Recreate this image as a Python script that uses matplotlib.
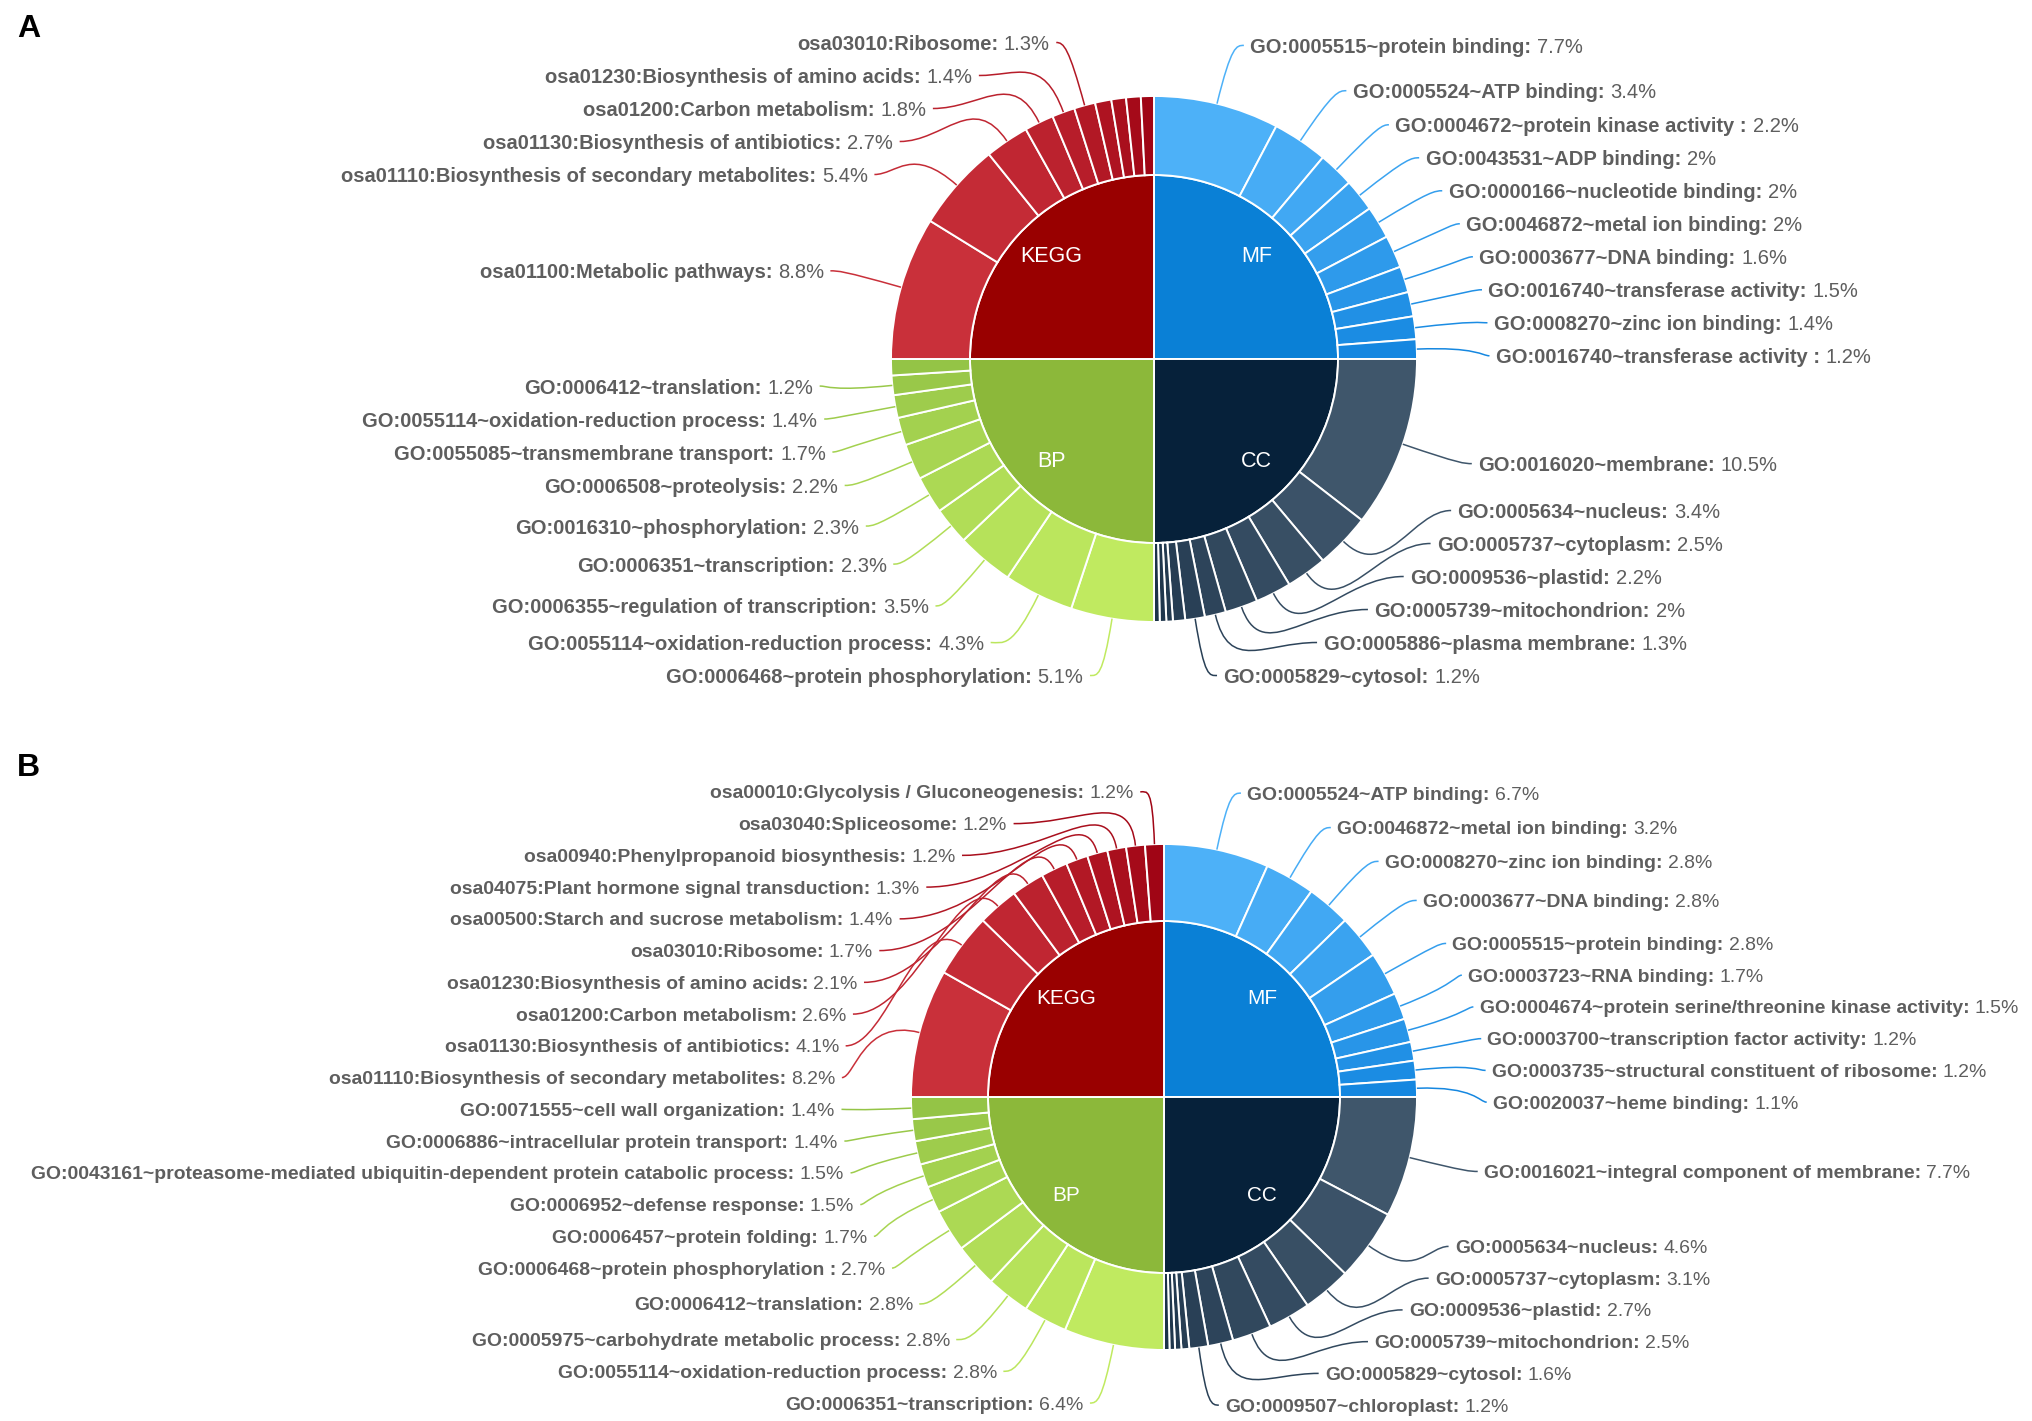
import numpy as np
import matplotlib
matplotlib.use("Agg")
import matplotlib.pyplot as plt
from matplotlib.patches import Wedge, PathPatch
from matplotlib.path import Path

# ---------------- data (percent of annotated genes) ----------------
categories = ["MF", "CC", "BP", "KEGG"]

A_MF_terms = ["GO:0005515~protein binding", "GO:0005524~ATP binding",
              "GO:0004672~protein kinase activity ", "GO:0043531~ADP binding",
              "GO:0000166~nucleotide binding", "GO:0046872~metal ion binding",
              "GO:0003677~DNA binding", "GO:0016740~transferase activity",
              "GO:0008270~zinc ion binding", "GO:0016740~transferase activity "]
A_MF_values = [7.7, 3.4, 2.2, 2, 2, 2, 1.6, 1.5, 1.4, 1.2]

A_CC_terms = ["GO:0016020~membrane", "GO:0005634~nucleus", "GO:0005737~cytoplasm",
              "GO:0009536~plastid", "GO:0005739~mitochondrion",
              "GO:0005886~plasma membrane", "GO:0005829~cytosol", "", "", "", ""]
A_CC_values = [10.5, 3.4, 2.5, 2.2, 2, 1.3, 1.2, 0.75, 0.4, 0.4, 0.35]

A_BP_terms = ["GO:0006468~protein phosphorylation", "GO:0055114~oxidation-reduction process",
              "GO:0006355~regulation of transcription", "GO:0006351~transcription",
              "GO:0016310~phosphorylation", "GO:0006508~proteolysis",
              "GO:0055085~transmembrane transport", "GO:0055114~oxidation-reduction process",
              "GO:0006412~translation", ""]
A_BP_values = [5.1, 4.3, 3.5, 2.3, 2.3, 2.2, 1.7, 1.4, 1.2, 1.0]

A_KEGG_terms = ["osa01100:Metabolic pathways", "osa01110:Biosynthesis of secondary metabolites",
                "osa01130:Biosynthesis of antibiotics", "osa01200:Carbon metabolism",
                "osa01230:Biosynthesis of amino acids", "osa03010:Ribosome", "", "", "", ""]
A_KEGG_values = [8.8, 5.4, 2.7, 1.8, 1.4, 1.3, 1.0, 0.9, 0.9, 0.8]

B_MF_terms = ["GO:0005524~ATP binding", "GO:0046872~metal ion binding",
              "GO:0008270~zinc ion binding", "GO:0003677~DNA binding",
              "GO:0005515~protein binding", "GO:0003723~RNA binding",
              "GO:0004674~protein serine/threonine kinase activity",
              "GO:0003700~transcription factor activity",
              "GO:0003735~structural constituent of ribosome", "GO:0020037~heme binding"]
B_MF_values = [6.7, 3.2, 2.8, 2.8, 2.8, 1.7, 1.5, 1.2, 1.2, 1.1]

B_CC_terms = ["GO:0016021~integral component of membrane", "GO:0005634~nucleus",
              "GO:0005737~cytoplasm", "GO:0009536~plastid", "GO:0005739~mitochondrion",
              "GO:0005829~cytosol", "GO:0009507~chloroplast", "", "", "", ""]
B_CC_values = [7.7, 4.6, 3.1, 2.7, 2.5, 1.6, 1.2, 0.5, 0.4, 0.35, 0.35]

B_BP_terms = ["GO:0006351~transcription", "GO:0055114~oxidation-reduction process",
              "GO:0005975~carbohydrate metabolic process", "GO:0006412~translation",
              "GO:0006468~protein phosphorylation ", "GO:0006457~protein folding",
              "GO:0006952~defense response",
              "GO:0043161~proteasome-mediated ubiquitin-dependent protein catabolic process",
              "GO:0006886~intracellular protein transport", "GO:0071555~cell wall organization"]
B_BP_values = [6.4, 2.8, 2.8, 2.8, 2.7, 1.7, 1.5, 1.5, 1.4, 1.4]

B_KEGG_terms = ["osa01110:Biosynthesis of secondary metabolites",
                "osa01130:Biosynthesis of antibiotics", "osa01200:Carbon metabolism",
                "osa01230:Biosynthesis of amino acids", "osa03010:Ribosome",
                "osa00500:Starch and sucrose metabolism",
                "osa04075:Plant hormone signal transduction",
                "osa00940:Phenylpropanoid biosynthesis", "osa03040:Spliceosome",
                "osa00010:Glycolysis / Gluconeogenesis"]
B_KEGG_values = [8.2, 4.1, 2.6, 2.1, 1.7, 1.4, 1.3, 1.2, 1.2, 1.2]

# ---------------- style ----------------
STYLE = {  # inner colour, outer light (largest), outer dark (smallest)
    "MF": ("#0a80d6", "#4db1f8", "#1587e0"),
    "CC": ("#06213a", "#3f566b", "#1b3248"),
    "BP": ("#8cb83a", "#c0ea60", "#94c446"),
    "KEGG": ("#990000", "#c9303a", "#a00515"),
}
TEXT_COLOR = "#5e5e5e"
FONT = "Liberation Sans"

W, H = 2033, 1421
fig = plt.figure(figsize=(W / 100, H / 100), dpi=100)
ax = fig.add_axes([0, 0, 1, 1])
ax.set_xlim(0, W)
ax.set_ylim(H, 0)
ax.set_aspect("equal")
ax.axis("off")
renderer = fig.canvas.get_renderer()


def hex2rgb(h):
    h = h.lstrip("#")
    return np.array([int(h[i:i + 2], 16) for i in (0, 2, 4)]) / 255.0


def mix(a, b, t):
    return tuple(hex2rgb(a) * (1 - t) + hex2rgb(b) * t)


def iso_layout(yn, h, lo, hi):
    n = len(yn)
    idx = np.arange(n)
    z = np.asarray(yn) - h * idx
    blocks = []
    for v in z:
        blocks.append([v, 1])
        while len(blocks) > 1 and blocks[-2][0] / blocks[-2][1] > blocks[-1][0] / blocks[-1][1]:
            s, c = blocks.pop()
            blocks[-1][0] += s
            blocks[-1][1] += c
    zf = np.concatenate([[b[0] / b[1]] * b[1] for b in blocks])
    zlo = lo + h / 2
    zhi = hi - h / 2 - h * (n - 1)
    zf = np.clip(zf, zlo, max(zlo, zhi))
    return zf + h * idx


def draw_panel(cx, cy, r0, r1, s, groups, lo, hi):
    L = 60 * s       # radial part of the leader line
    L2 = 12.5 * s    # horizontal part
    dist = 6.5 * s   # gap line -> text
    hgt = 33 * s     # label slot height
    fs = 14.5 * s    # label font size (pt)
    lw_edge = 1.4
    start = 90.0
    quad = 360.0 / len(groups)
    labels = []
    for cat, terms, vals in groups:
        cin, clight, cdark = STYLE[cat]
        a1, a2 = start, start - quad
        ax.add_patch(Wedge((cx, cy), r0, -a1, -a2, facecolor=cin,
                           edgecolor="white", linewidth=lw_edge))
        mid = np.radians((a1 + a2) / 2)
        ax.text(cx + 0.79 * r0 * np.cos(mid), cy - 0.79 * r0 * np.sin(mid), cat,
                color="white", fontsize=15.5 * s, family=FONT,
                ha="center", va="center")
        total = float(sum(vals))
        a = a1
        n = len(vals)
        for i, (t, v) in enumerate(zip(terms, vals)):
            span = quad * v / total
            b = a - span
            col = mix(clight, cdark, i / (n - 1))
            ax.add_patch(Wedge((cx, cy), r1, -a, -b, width=r1 - r0, facecolor=col,
                               edgecolor="white", linewidth=lw_edge))
            if t:
                labels.append(dict(theta=np.radians((a + b) / 2), name=t, value=v, color=col))
            a = b
        start = a2

    R = r1 + L
    for side in (1, -1):
        items = [d for d in labels if (np.cos(d["theta"]) >= 0) == (side == 1)]
        for d in items:
            d["yn"] = cy - R * np.sin(d["theta"])
            d["dxn"] = abs(R * np.cos(d["theta"]))
        items.sort(key=lambda d: d["yn"])
        ys = iso_layout([d["yn"] for d in items], hgt, lo, hi)
        for d, y in zip(items, ys):
            d["y"] = y
        # ellipse alignment per semi-circle
        for top in (True, False):
            semi = [d for d in items if (d["y"] < cy) == top]
            if not semi:
                continue
            ext = max(semi, key=lambda d: abs(d["y"] - cy))
            dy = abs(ext["y"] - cy)
            dx = ext["dxn"]
            rB = np.sqrt(dy * dy / (1 - dx * dx / R / R)) if dx < R else R
            rB = max(rB, dy)
            for d in semi:
                ddy = abs(d["y"] - cy)
                d["dx"] = R * np.sqrt(max(0.0, 1 - ddy * ddy / rB / rB))
        for d in items:
            th = d["theta"]
            p0 = (cx + r1 * np.cos(th), cy - r1 * np.sin(th))
            p1 = (cx + R * np.cos(th), cy - R * np.sin(th))
            xend = cx + side * (d["dx"] + L2)
            p2 = (xend, d["y"])
            hx = max(0.6 * abs(p2[0] - p1[0]), 6 * s)
            c2 = (xend - side * hx, d["y"])
            path = Path([p0, p1, c2, p2], [Path.MOVETO, Path.CURVE4, Path.CURVE4, Path.CURVE4])
            ax.add_patch(PathPatch(path, facecolor="none", edgecolor=d["color"], linewidth=1.1))
            xt = xend + side * dist
            name = d["name"] + ":"
            val = f"{d['value']:g}%"
            sp = 0.278 * fs * 100 / 72
            if side == 1:
                t1 = ax.text(xt, d["y"], name, fontsize=fs, family=FONT, weight="bold",
                             color=TEXT_COLOR, ha="left", va="center_baseline")
                w = t1.get_window_extent(renderer).width
                ax.text(xt + w + sp, d["y"], val, fontsize=fs, family=FONT,
                        color=TEXT_COLOR, ha="left", va="center_baseline")
            else:
                t2 = ax.text(xt, d["y"], val, fontsize=fs, family=FONT,
                             color=TEXT_COLOR, ha="right", va="center_baseline")
                w = t2.get_window_extent(renderer).width
                ax.text(xt - w - sp, d["y"], name, fontsize=fs, family=FONT, weight="bold",
                        color=TEXT_COLOR, ha="right", va="center_baseline")


groupsA = [("MF", A_MF_terms, A_MF_values), ("CC", A_CC_terms, A_CC_values),
           ("BP", A_BP_terms, A_BP_values), ("KEGG", A_KEGG_terms, A_KEGG_values)]
groupsB = [("MF", B_MF_terms, B_MF_values), ("CC", B_CC_terms, B_CC_values),
           ("BP", B_BP_terms, B_BP_values), ("KEGG", B_KEGG_terms, B_KEGG_values)]

draw_panel(1154, 359, 184, 263, 1.0, groupsA, 26, 692)
draw_panel(1164, 1097, 176, 253, 0.962, groupsB, 776, 1421)

ax.text(17, 29, "A", fontsize=23, family=FONT, weight="bold", color="black",
        ha="left", va="center")
ax.text(17, 768, "B", fontsize=23, family=FONT, weight="bold", color="black",
        ha="left", va="center")

fig.savefig("out.png", dpi=100, facecolor="white")
